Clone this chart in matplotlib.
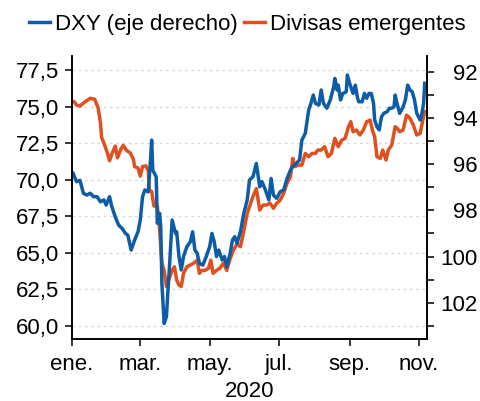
import numpy as np
import matplotlib
matplotlib.use("Agg")
import matplotlib.pyplot as plt
import matplotlib.dates as mdates
from matplotlib.ticker import MultipleLocator, FixedLocator

plt.rcParams['font.family'] = ['Liberation Sans', 'DejaVu Sans']
plt.rcParams['font.size'] = 16

# dias desde el 1 de enero de 2020
div_dias = [2, 4, 7, 11, 16, 20, 23, 25, 26, 29, 31, 33, 35, 38, 40, 43, 45, 48, 51, 54,
            55, 58, 60, 62, 65, 67, 68, 70, 72, 75, 77, 79, 81, 83, 85, 88, 90, 92, 94, 96,
            98, 101, 104, 107, 110, 112, 114, 117, 120, 122, 124, 127, 130, 133, 136, 139,
            142, 145, 148, 151, 154, 156, 159, 162, 165, 168, 171, 174, 177, 180, 183, 186,
            189, 192, 194, 196, 199, 202, 205, 208, 211, 214, 216, 219, 222, 225, 228, 231,
            234, 237, 240, 243, 245, 247, 250, 253, 256, 259, 262, 264, 266, 268, 271, 273,
            276, 278, 281, 284, 286, 288, 291, 294, 297, 300, 303, 306, 308, 310]
div_vals = [75.33, 75.1, 75.04, 75.3, 75.57, 75.5, 74.9, 73.9, 72.9, 72.3, 71.85, 71.3, 71.75,
            72.3, 71.5, 72.1, 72.35, 72.0, 71.85, 71.4, 70.9, 70.8, 70.25, 70.9, 70.95, 70.6,
            69.3, 69.2, 68.2, 68.2, 66.6, 64.3, 63.8, 62.7, 63.15, 63.8, 64.05, 63.15, 62.8,
            62.7, 63.6, 64.05, 64.17, 64.3, 64.5, 63.6, 63.8, 63.8, 63.95, 64.5, 63.6, 63.8,
            63.95, 64.3, 63.8, 64.6, 65.2, 65.6, 65.42, 66.5, 67.7, 68.16, 68.84, 69.4, 67.93,
            68.27, 68.27, 68.4, 68.05, 68.4, 68.6, 69.07, 69.76, 70.2, 71.46, 70.9, 71.0, 71.0,
            71.8, 71.58, 71.8, 71.8, 72.03, 72.03, 72.26, 71.58, 71.8, 72.83, 72.26, 72.7,
            72.83, 73.63, 73.97, 73.28, 73.4, 73.06, 73.4, 73.97, 74.08, 73.4, 72.94, 71.58,
            71.46, 72.03, 71.35, 72.03, 72.37, 73.63, 73.5, 73.28, 73.4, 74.42, 74.2, 73.74,
            73.06, 73.17, 73.97, 74.66]

dxy_dias = [1, 4, 7, 10, 13, 16, 19, 22, 25, 28, 30, 33, 35, 38, 41, 44, 47, 49, 52, 55,
            58, 60, 62, 64, 67, 69, 70, 71, 74, 75, 77, 78, 79, 81, 83, 84, 86, 88, 91, 92,
            94, 96, 98, 101, 104, 106, 108, 110, 112, 115, 118, 121, 123, 125, 127, 129, 132,
            134, 136, 139, 141, 143, 145, 148, 151, 154, 156, 159, 162, 165, 167, 170, 173,
            175, 177, 180, 183, 186, 189, 192, 194, 197, 200, 202, 205, 208, 210, 212, 214,
            217, 219, 221, 224, 227, 230, 231, 233, 234, 236, 238, 241, 242, 244, 247, 249,
            251, 252, 255, 257, 259, 261, 263, 265, 266, 268, 270, 272, 274, 277, 279, 281,
            283, 284, 286, 288, 291, 293, 295, 297, 299, 301, 303, 306, 307, 309, 310]
dxy_vals = [96.4, 96.76, 96.7, 97.26, 97.34, 97.26, 97.41, 97.41, 97.63, 97.55, 97.77, 97.41,
            97.84, 98.28, 98.64, 98.78, 99.0, 99.07, 99.72, 99.29, 98.93, 98.42, 97.41, 97.12,
            97.2, 95.82, 94.96, 96.26, 96.55, 98.56, 98.13, 98.71, 101.16, 102.9, 102.6,
            101.74, 100.15, 98.42, 99.0, 98.93, 100.0, 100.58, 100.0, 99.57, 99.36, 98.93,
            99.72, 99.86, 100.3, 100.37, 100.0, 99.57, 99.0, 99.36, 100.0, 99.72, 100.15,
            100.0, 100.44, 99.86, 99.29, 99.14, 99.43, 98.93, 98.13, 97.55, 96.69, 96.55,
            95.97, 96.98, 96.76, 97.12, 97.55, 96.62, 97.34, 97.48, 97.19, 97.12, 96.62,
            96.26, 96.11, 95.97, 95.82, 94.96, 94.67, 93.66, 93.37, 93.01, 93.37, 93.44,
            92.79, 93.37, 93.58, 93.22, 92.65, 92.29, 92.79, 92.58, 93.22, 92.94, 92.87,
            92.14, 92.5, 92.94, 92.58, 93.15, 93.3, 93.3, 92.94, 93.15, 92.94, 92.94, 93.37,
            94.09, 94.38, 94.52, 93.95, 93.8, 93.73, 93.58, 93.58, 93.52, 93.01, 93.44, 93.8,
            93.52, 93.22, 92.58, 92.79, 92.87, 93.22, 93.8, 94.09, 93.95, 93.37, 92.5]

meses = ['2020-01-01', '2020-03-01', '2020-05-01', '2020-07-01', '2020-09-01', '2020-11-01']
meses_txt = ['ene.', 'mar.', 'may.', 'jul.', 'sep.', 'nov.']
izq_ticks = [60.0, 62.5, 65.0, 67.5, 70.0, 72.5, 75.0, 77.5]

AZUL = '#0d5da6'
NARANJA = '#e0501f'

inicio = np.datetime64('2020-01-01')
div_fechas = inicio + np.array(div_dias).astype('timedelta64[D]')
dxy_fechas = inicio + np.array(dxy_dias).astype('timedelta64[D]')

fig = plt.figure(figsize=(4.8, 4.01), dpi=100)
ax = fig.add_axes([0.15, 0.1546, 0.7396, 0.7057])
ax2 = ax.twinx()

l_div, = ax.plot(div_fechas, div_vals, color=NARANJA, lw=2.5, label='Divisas emergentes')
l_dxy, = ax2.plot(dxy_fechas, dxy_vals, color=AZUL, lw=2.5, label='DXY (eje derecho)')

ax.set_xlim(inicio, inicio + np.timedelta64(312, 'D'))
ax.set_ylim(59.11, 78.46)
ax2.set_ylim(103.57, 91.32)

ax.xaxis.set_major_locator(FixedLocator(mdates.date2num(np.array(meses, dtype='datetime64[D]'))))
ax.set_xticklabels(meses_txt)
ax.set_xlabel('2020', labelpad=4)

ax.set_yticks(izq_ticks)
ax.set_yticklabels([f'{v:.1f}'.replace('.', ',') for v in izq_ticks])
ax.grid(axis='y', color='#d4d4d4', linestyle=(0, (2, 3)), lw=0.9)

ax2.yaxis.set_major_locator(MultipleLocator(2))
ax2.yaxis.set_minor_locator(MultipleLocator(1))

for a in (ax, ax2):
    a.spines['top'].set_visible(False)
    for s in a.spines.values():
        s.set_linewidth(1.2)
ax.tick_params(axis='y', which='major', length=5, width=1.1, pad=4.5)
ax.tick_params(axis='x', which='major', length=5, width=1.1, pad=6)
ax2.tick_params(axis='y', which='both', length=5, width=1.1, pad=31.5)
for lab in ax2.get_yticklabels():
    lab.set_horizontalalignment('right')

fig.legend(handles=[l_dxy, l_div], loc='center', bbox_to_anchor=(0.515, 0.94), ncol=2,
           frameon=False, handlelength=0.95, handletextpad=0.2, columnspacing=0.3,
           borderaxespad=0)

fig.savefig('out.png', dpi=100)
